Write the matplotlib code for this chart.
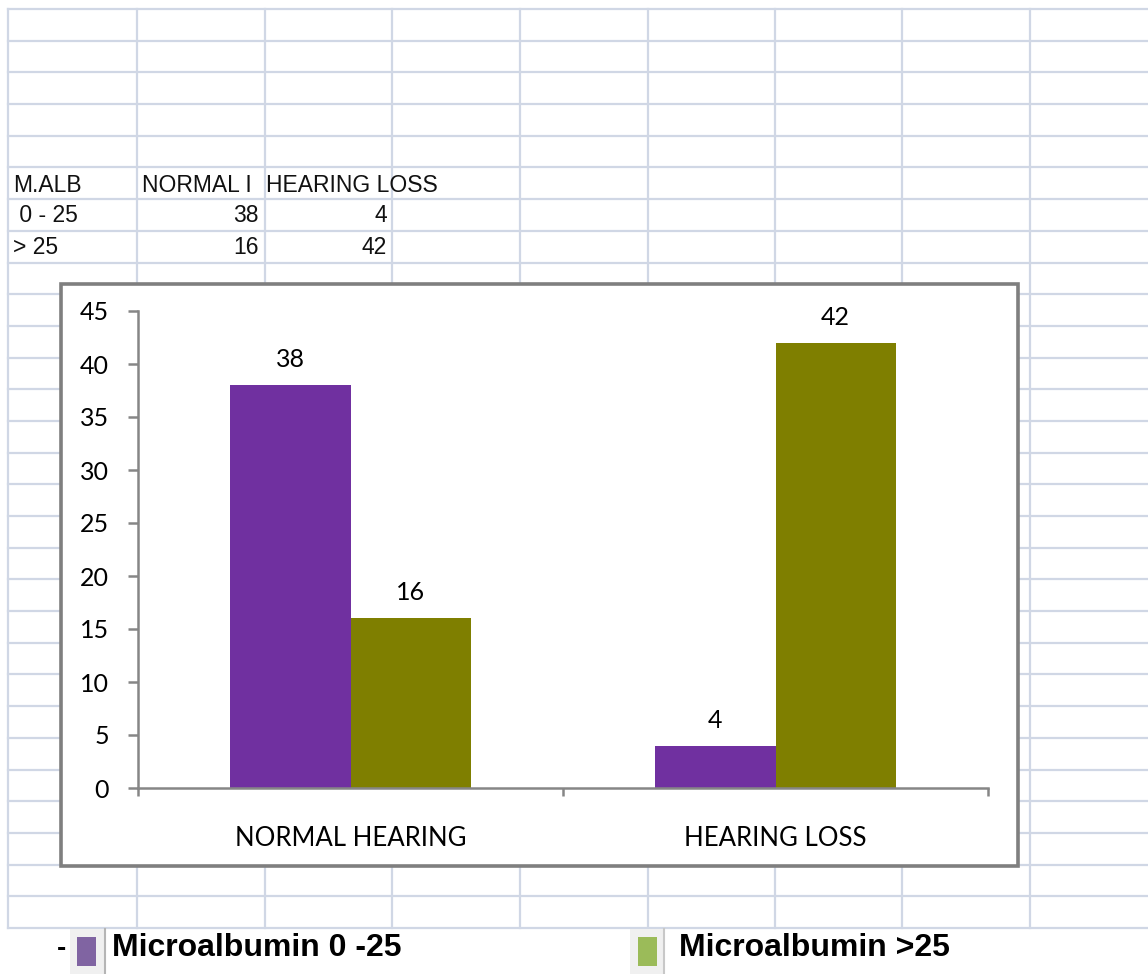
import numpy as np
import matplotlib
matplotlib.use("Agg")
import matplotlib.pyplot as plt
from matplotlib.patches import Rectangle

# data from the sheet
categories = ["NORMAL HEARING", "HEARING LOSS"]
series_names = ["Microalbumin 0 -25", "Microalbumin >25"]
alb_low = [38, 4]
alb_high = [16, 42]

table_header = ["M.ALB", "NORMAL I", "HEARING LOSS"]
table_rows = [" 0 - 25", "> 25"]

W, H = 1148, 974
fig = plt.figure(figsize=(W / 100, H / 100), dpi=100)

# spreadsheet background in pixel coords
bg = fig.add_axes([0, 0, 1, 1])
bg.set_xlim(0, W)
bg.set_ylim(H, 0)
bg.axis("off")

grid_col = "#d0d7e5"
col_x = [8, 137, 265, 392, 520, 648, 775, 902, 1030]
row_y = np.linspace(9, 928, 30)
for xx in col_x:
    bg.plot([xx, xx], [9, 928], color=grid_col, lw=1.6, zorder=1)
for yy in row_y:
    bg.plot([8, W], [yy, yy], color=grid_col, lw=1.6, zorder=1)

# table text
tfont = dict(family="Liberation Sans", fontsize=16.5, color="#111111", va="center", zorder=2)
bg.text(13, 185, table_header[0], ha="left", **tfont)
bg.text(142, 185, table_header[1], ha="left", **tfont)
bg.text(266, 185, table_header[2], ha="left", **tfont)
for i, lab in enumerate(table_rows):
    yy = 216 + i * 31.7
    bg.text(13, yy, lab, ha="left", **tfont)
    bg.text(259, yy, str(alb_low[0] if i == 0 else alb_high[0]), ha="right", **tfont)
    bg.text(387, yy, str(alb_low[1] if i == 0 else alb_high[1]), ha="right", **tfont)

# chart frame
bg.add_patch(Rectangle((61, 284), 957, 582, facecolor="white",
                       edgecolor="#7f7f7f", lw=2.6, zorder=3))

# legend strip at bottom
bg.add_patch(Rectangle((70, 929), 35, 45, facecolor="#f0f0f0", edgecolor="none", zorder=2))
bg.plot([105, 105], [929, 974], color="#b5b5b5", lw=1.5, zorder=2)
bg.add_patch(Rectangle((630, 929), 33, 45, facecolor="#f0f0f0", edgecolor="none", zorder=2))
bg.plot([664, 664], [929, 974], color="#c8c8c8", lw=1.5, zorder=2)
bg.text(57, 949, "-", fontsize=20, fontweight="bold", family="Liberation Sans",
        va="center", ha="left", zorder=4)
bg.add_patch(Rectangle((77, 937), 19, 29, facecolor="#8064a2", edgecolor="none", zorder=4))
bg.add_patch(Rectangle((638, 937), 19, 29, facecolor="#9bbb59", edgecolor="none", zorder=4))
lfont = dict(family="Liberation Sans", fontsize=23, fontweight="bold", va="center", ha="left", zorder=4)
bg.text(112, 948, series_names[0], **lfont)
bg.text(679, 948, series_names[1], **lfont)

# the bar chart itself
ax = fig.add_axes([138 / W, (H - 788) / H, 850 / W, 477 / H])
ax.set_zorder(5)
ax.patch.set_alpha(0)

x = np.arange(len(categories))
w = 0.283
b1 = ax.bar(x - w / 2, alb_low, w, color="#7030a0")
b2 = ax.bar(x + w / 2, alb_high, w, color="#7f7f00")
for bars in (b1, b2):
    for r in bars:
        v = r.get_height()
        ax.annotate(f"{v:g}", (r.get_x() + r.get_width() / 2, v),
                    xytext=(0, 14), textcoords="offset pixels",
                    ha="center", va="bottom", fontsize=18, family="Lato")

ax.set_xlim(-0.5, 1.5)
ax.set_ylim(0, 45)
ax.set_yticks(np.arange(0, 46, 5))
ax.set_xticks(x)
ax.set_xticklabels(categories)
ax.set_xticks([-0.5, 0.5, 1.5], minor=True)

for s in ("top", "right"):
    ax.spines[s].set_visible(False)
for s in ("left", "bottom"):
    ax.spines[s].set_color("#868686")
    ax.spines[s].set_linewidth(1.8)

ax.tick_params(axis="y", direction="out", length=7, width=1.8, color="#868686",
               labelsize=18, pad=14)
ax.tick_params(axis="x", which="major", length=0, labelsize=18.5, pad=27)
ax.tick_params(axis="x", which="minor", direction="out", length=6, width=1.8, color="#868686")
for lab in ax.get_xticklabels() + ax.get_yticklabels():
    lab.set_family("Lato")

fig.savefig("out.png", dpi=100)
